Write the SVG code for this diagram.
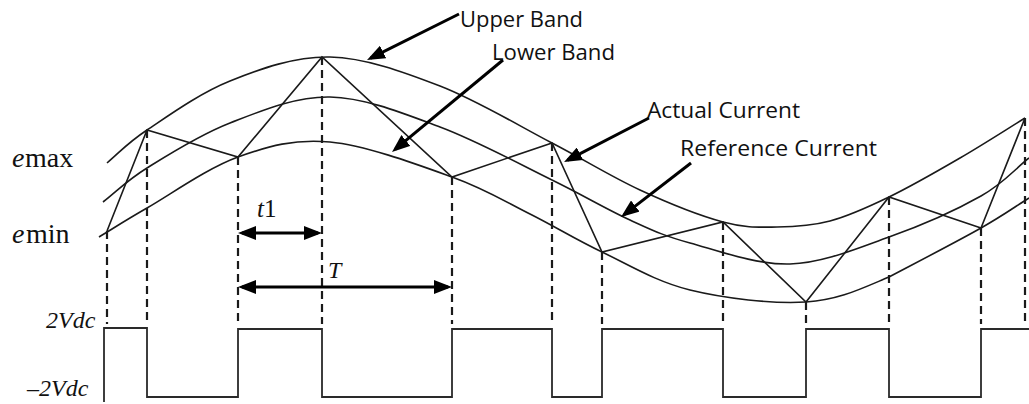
<svg xmlns="http://www.w3.org/2000/svg" width="1029" height="404" viewBox="0 0 1029 404">
<style>
.curve{fill:none;stroke:#1a1a1a;stroke-width:1.6}
.dash{fill:none;stroke:#1a1a1a;stroke-width:2.2;stroke-dasharray:8 5}
.wave{fill:none;stroke:#2a2a2a;stroke-width:1.8}
.ptr{fill:none;stroke:#000;stroke-width:3}
.lbl{font-family:"Open Sans","Liberation Sans",sans-serif;font-size:22px;fill:#111}
.math{font-family:"Liberation Serif","Times New Roman",serif;fill:#111}
.it{font-style:italic}
</style>
<defs>
<marker id="head" viewBox="0 0 18 14" refX="14" refY="7" markerWidth="18" markerHeight="14" markerUnits="userSpaceOnUse" orient="auto-start-reverse">
<path d="M0,0 L18,7 L0,14 z" fill="#000"/>
</marker>
</defs>
<rect width="1029" height="404" fill="#fff"/>

<g id="upper-band">
<path class="curve" d="M107,163 C120,152 126.5,143.7 147,130 C167.5,116.3 199.5,93.2 230,81 C260.5,68.8 295,56.2 330,57 C365,57.8 403,71.7 440,86 C477,100.3 518.7,125.7 552,143 C585.3,160.3 611.5,176.8 640,190 C668.5,203.2 700.2,215.8 723,222 C745.8,228.2 759.2,227.2 777,227 C794.8,226.8 811.3,226 830,221 C848.7,216 867.3,207.5 889,197 C910.7,186.5 937.3,171.2 960,158 C982.7,144.8 1004,131 1025,118"/>
</g>
<g id="reference-current">
<path class="curve" d="M103,202 C117.7,190.7 125.8,181.2 147,168 C168.2,154.8 199.5,134.8 230,123 C260.5,111.2 295,96.3 330,97 C365,97.7 403,113.2 440,127 C477,140.8 520.3,164.5 552,180 C583.7,195.5 607,209.5 630,220 C653,230.5 663.3,235.7 690,243 C716.7,250.3 756.8,265 790,264 C823.2,263 857.2,248.3 889,237 C920.8,225.7 957.7,209.2 981,196 C1004.3,182.8 1013,170.7 1029,158"/>
</g>
<g id="lower-band">
<path class="curve" d="M99,237 C115,227.3 123.8,221.3 147,208 C170.2,194.7 207.5,168 238,157 C268.5,146 294.3,138.7 330,142 C365.7,145.3 418.7,165 452,177 C485.3,189 505,201.5 530,214 C555,226.5 575.3,239.3 602,252 C628.7,264.7 656,281.7 690,290 C724,298.3 772.8,304.2 806,302 C839.2,299.8 859.8,289.3 889,277 C912.3,264.7 957.7,241.2 981,228 C1004.3,214.8 1013,208 1029,198"/>
</g>
<g id="actual-current">
<polyline class="curve" points="107,231 147,130 238,157 322,57 452,177 552,143 602,252 723,222 806,302 889,197 981,228 1025,118"/>
</g>

<g id="projections">
<line class="dash" x1="107" y1="231" x2="107" y2="324"/>
<line class="dash" x1="147" y1="130" x2="147" y2="324"/>
<line class="dash" x1="238" y1="157" x2="238" y2="324"/>
<line class="dash" x1="322" y1="57" x2="322" y2="324"/>
<line class="dash" x1="452" y1="177" x2="452" y2="324"/>
<line class="dash" x1="552" y1="143" x2="552" y2="324"/>
<line class="dash" x1="602" y1="252" x2="602" y2="324"/>
<line class="dash" x1="723" y1="222" x2="723" y2="324"/>
<line class="dash" x1="806" y1="302" x2="806" y2="324"/>
<line class="dash" x1="889" y1="197" x2="889" y2="324"/>
<line class="dash" x1="981" y1="228" x2="981" y2="324"/>
<line class="dash" x1="1025" y1="118" x2="1025" y2="324"/>
</g>

<g id="switching-signal">
<path class="wave" d="M104,402 V328 H147 V397 H238 V329 H322 V397 H452 V329 H552 V397 H602 V329 H723 V397 H806 V329 H889 V397 H981 V329 H1029"/>
</g>

<g id="connectors">
<line class="ptr" x1="459" y1="14" x2="370.6" y2="58.2" marker-end="url(#head)"/>
<line class="ptr" x1="503" y1="60" x2="395.1" y2="149.4" marker-end="url(#head)"/>
<line class="ptr" x1="649" y1="118" x2="567.6" y2="160.2" marker-end="url(#head)"/>
<line class="ptr" x1="691" y1="163" x2="624.2" y2="214.6" marker-end="url(#head)"/>
<line class="ptr" x1="242" y1="233" x2="318" y2="233" marker-start="url(#head)" marker-end="url(#head)"/>
<line class="ptr" x1="242" y1="287" x2="448" y2="287" marker-start="url(#head)" marker-end="url(#head)"/>
</g>

<g id="label-upper-band"><text class="lbl" x="460" y="27" textLength="123" lengthAdjust="spacingAndGlyphs">Upper Band</text></g>
<g id="label-lower-band"><text class="lbl" x="492" y="60" textLength="123" lengthAdjust="spacingAndGlyphs">Lower Band</text></g>
<g id="label-actual-current"><text class="lbl" x="647" y="118" textLength="153" lengthAdjust="spacingAndGlyphs">Actual Current</text></g>
<g id="label-reference-current"><text class="lbl" x="680" y="156" textLength="197" lengthAdjust="spacingAndGlyphs">Reference Current</text></g>

<g id="label-emax"><text class="math" x="12" y="167" font-size="28"><tspan class="it">e</tspan><tspan x="25">max</tspan></text></g>
<g id="label-emin"><text class="math" x="12" y="243" font-size="28"><tspan class="it">e</tspan><tspan x="26">min</tspan></text></g>
<g id="label-2vdc"><text class="math it" x="46" y="328" font-size="24">2Vdc</text></g>
<g id="label-neg2vdc"><text class="math it" x="27" y="396" font-size="24">–2Vdc</text></g>
<g id="label-t1"><text class="math" x="257" y="217" font-size="25"><tspan class="it">t</tspan>1</text></g>
<g id="label-T"><text class="math it" x="328" y="278" font-size="24">T</text></g>
</svg>
